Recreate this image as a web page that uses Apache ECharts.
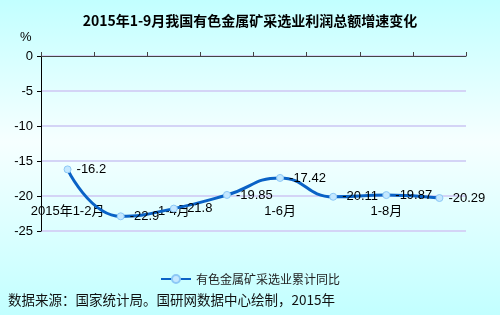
<!DOCTYPE html>
<html><head><meta charset="utf-8">
<script src="https://cdn.jsdelivr.net/npm/echarts@6/dist/echarts.min.js"></script>
<style>html,body{margin:0;padding:0}#c{width:500px;height:315px}</style>
</head><body><div id="c"></div>
<script>
var categories = ['2015年1-2月','1-3月','1-4月','1-5月','1-6月','1-7月','1-8月','1-9月'];
var values = [-16.2, -22.9, -21.8, -19.85, -17.42, -20.11, -19.87, -20.29];
var yTicks = {min: -25, max: 0, interval: 5};
var seriesName = '有色金属矿采选业累计同比';
var titleText = '2015年1-9月我国有色金属矿采选业利润总额增速变化';
var sourceText = '数据来源：国家统计局。国研网数据中心绘制，2015年';

var chart = echarts.init(document.getElementById('c'));
var font = 'Arial, "Liberation Sans", "Noto Sans CJK SC", sans-serif';
chart.setOption({
  backgroundColor: {type:'linear', x:0, y:0, x2:0, y2:1, colorStops:[
    {offset:0, color:'#c2ffff'}, {offset:0.45, color:'#f6ffff'}, {offset:1, color:'#c2ffff'}]},
  animation: false,
  title: {text: titleText, left: 'center', top: 9,
    textStyle: {fontSize: 14, fontWeight: 'bold', color: '#000', fontFamily: '"Noto Sans CJK SC", sans-serif'}},
  legend: {data: [seriesName], left: 'center', top: 268, itemWidth: 30, itemHeight: 10, itemGap: 4,
    textStyle: {fontSize: 12, color: '#222', fontFamily: '"Noto Sans CJK SC", sans-serif'}},
  graphic: [
    {type: 'text', left: 20, top: 31, style: {text: '%', fontSize: 13, fill: '#000', font: '13px Arial'}},
    {type: 'text', left: 8, top: 293, style: {text: sourceText, fill: '#111', font: '13.5px "Noto Sans CJK SC", sans-serif'}}
  ],
  grid: [
    {left: 41, top: 56, width: 425, height: 175},
    {left: 41, top: 56, width: 425, height: 140}
  ],
  xAxis: [
    {type: 'category', gridIndex: 0, data: categories, boundaryGap: true, show: false},
    {type: 'category', gridIndex: 1, data: categories, boundaryGap: true,
      axisLine: {lineStyle: {color: '#444', width: 1}},
      axisTick: {show: true, inside: true, length: 4, interval: 0, lineStyle: {color: '#444'}},
      axisLabel: {interval: 1, margin: 9, fontSize: 13, color: '#000', fontFamily: font},
      splitLine: {show: false}}
  ],
  yAxis: [
    {type: 'value', gridIndex: 0, min: yTicks.min, max: yTicks.max, interval: yTicks.interval,
      axisLine: {show: true, lineStyle: {color: '#000', width: 1}},
      axisTick: {show: true, length: 4, lineStyle: {color: '#000'}},
      axisLabel: {fontSize: 13, color: '#000', margin: 8, fontFamily: font},
      splitLine: {show: true, lineStyle: {color: '#d4d4f6', width: 2}}},
    {type: 'value', gridIndex: 1, min: -20, max: 0, show: false}
  ],
  series: [{
    name: seriesName, type: 'line', xAxisIndex: 0, yAxisIndex: 0, data: values,
    smooth: 0.5, symbol: 'circle', symbolSize: 7,
    lineStyle: {color: '#0a62c6', width: 3},
    itemStyle: {color: '#c4e8ff', borderColor: '#8cc8f6', borderWidth: 1},
    label: {show: true, position: 'right', distance: 5, fontSize: 13, color: '#000', fontFamily: font},
    z: 5
  }]
});
</script></body></html>
